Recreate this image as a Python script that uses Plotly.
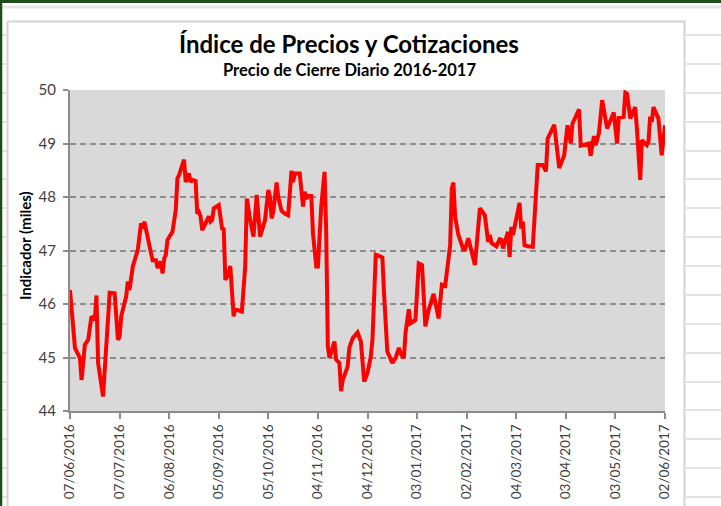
import pandas as pd
import plotly.graph_objects as go

# ---- data ----
start_date = "2016-06-07"
end_date = "2017-06-02"
days_since_start = [
    0, 3, 6, 7, 9, 11, 13, 15, 16, 17, 20, 23, 24, 27, 29, 30, 31, 34, 35, 36,
    38, 41, 43, 44, 45, 49, 50, 52, 53, 54, 55, 56, 57, 58, 59, 62, 64, 65, 66, 69,
    70, 72, 73, 74, 76, 77, 78, 79, 80, 81, 83, 84, 85, 86, 87, 90, 92, 93, 94, 96,
    97, 98, 99, 100, 102, 104, 106, 107, 109, 111, 113, 115, 118, 120, 121, 122, 123, 125, 126, 128,
    130, 132, 134, 135, 136, 139, 141, 142, 143, 144, 146, 147, 149, 150, 152, 154, 155, 156, 157, 158,
    160, 161, 163, 164, 165, 168, 169, 171, 174, 176, 178, 180, 182, 183, 185, 187, 189, 190, 192, 195,
    197, 199, 200, 202, 203, 205, 206, 209, 211, 213, 215, 217, 220, 223, 225, 227, 230, 231, 232, 233,
    235, 238, 239, 241, 245, 248, 251, 253, 254, 255, 258, 260, 261, 262, 265, 266, 267, 268, 272, 273,
    274, 275, 277, 280, 283, 286, 288, 289, 292, 293, 296, 299, 301, 303, 304, 308, 309, 314, 315, 317,
    318, 320, 322, 325, 329, 330, 331, 332, 335, 336, 337, 339, 342, 343, 345, 346, 349, 350, 351, 352,
    353, 356, 358, 360,
]
closing_price = [
    46.26, 45.18, 44.99, 44.58, 45.24, 45.33, 45.77, 45.70, 46.16, 44.90, 44.27, 45.83, 46.21, 46.20, 45.33, 45.39, 45.77, 46.14, 46.42, 46.26,
    46.70, 47.01, 47.51, 47.41, 47.54, 46.95, 46.82, 46.82, 46.67, 46.75, 46.79, 46.57, 46.85, 46.92, 47.20, 47.35, 47.76, 48.35, 48.41, 48.70,
    48.28, 48.44, 48.28, 48.32, 48.30, 47.69, 47.72, 47.64, 47.38, 47.44, 47.60, 47.64, 47.54, 47.57, 47.79, 47.85, 47.41, 47.40, 46.45, 46.57,
    46.71, 46.32, 45.77, 45.90, 45.88, 45.86, 46.70, 47.97, 47.57, 47.26, 48.04, 47.26, 47.57, 48.13, 48.00, 47.60, 47.72, 48.27, 48.00, 47.74,
    47.69, 47.66, 48.49, 48.28, 48.44, 48.44, 47.82, 48.10, 47.97, 48.02, 48.02, 47.32, 46.70, 46.70, 47.82, 48.47, 47.38, 45.21, 44.99, 45.08,
    45.30, 44.96, 44.90, 44.37, 44.58, 44.83, 45.18, 45.36, 45.47, 45.30, 44.55, 44.71, 45.02, 45.33, 46.92, 46.90, 46.87, 46.20, 45.11, 44.90,
    44.99, 45.18, 45.08, 44.99, 45.46, 45.90, 45.64, 45.70, 46.76, 46.73, 45.58, 45.89, 46.19, 45.73, 46.36, 46.34, 47.10, 48.16, 48.27, 47.63,
    47.29, 47.02, 47.02, 47.23, 46.73, 47.79, 47.66, 47.16, 47.29, 47.14, 47.08, 47.21, 47.20, 47.04, 47.35, 46.88, 47.44, 47.29, 47.89, 47.41,
    47.54, 47.10, 47.08, 47.07, 48.60, 48.60, 48.48, 49.09, 49.31, 49.35, 48.54, 48.78, 49.34, 49.00, 49.37, 49.64, 48.96, 49.00, 48.77, 49.14,
    48.97, 49.19, 49.81, 49.28, 49.58, 49.19, 49.00, 49.48, 49.50, 49.95, 49.93, 49.47, 49.68, 49.28, 48.32, 49.06, 48.97, 49.03, 49.50, 49.40,
    49.68, 49.47, 48.78, 49.34,
]
y_range = [44, 50]
tick_step_days = 30

title_text = "Índice de Precios y Cotizaciones"
subtitle_text = "Precio de Cierre Diario 2016-2017"
y_title_text = "Indicador (miles)"

dates = pd.Timestamp(start_date) + pd.to_timedelta(days_since_start, unit="D")

# ---- layout geometry ----
W, H = 721, 506
L, R, T, B = 70, 56, 90, 95
PW, PH = W - L - R, H - T - B


def px(x):
    return (x - L) / PW


def py(y):
    return 1 - (y - T) / PH


FONT = "Lato"

fig = go.Figure()
fig.add_trace(go.Scatter(
    x=dates, y=closing_price, mode="lines",
    line=dict(color="#ff0000", width=4),
    hoverinfo="x+y", showlegend=False,
))

shapes = []
# spreadsheet grid lines outside the chart box
grid_rows = [35, 64, 93, 122, 151, 179, 208, 237, 266, 295, 324, 353, 382, 410, 439, 468, 497]
for gy in grid_rows:
    shapes.append(dict(type="line", xref="paper", yref="paper",
                       x0=px(0), x1=px(7), y0=py(gy), y1=py(gy),
                       line=dict(color="#e3e3e3", width=2), layer="below"))
    shapes.append(dict(type="line", xref="paper", yref="paper",
                       x0=px(686), x1=px(W), y0=py(gy), y1=py(gy),
                       line=dict(color="#e3e3e3", width=2), layer="below"))
# light line under the top border
shapes.append(dict(type="line", xref="paper", yref="paper",
                   x0=px(0), x1=px(W), y0=py(7), y1=py(7),
                   line=dict(color="#e6e6e6", width=3), layer="below"))
# chart box border
shapes.append(dict(type="rect", xref="paper", yref="paper",
                   x0=px(7.5), x1=px(684.5), y0=py(21.5), y1=py(H + 20),
                   line=dict(color="#d4d4d4", width=2), fillcolor="rgba(0,0,0,0)",
                   layer="below"))
# dark green frame (top and left)
shapes.append(dict(type="line", xref="paper", yref="paper",
                   x0=px(0), x1=px(W), y0=py(1.5), y1=py(1.5),
                   line=dict(color="#1d4d1d", width=3)))
shapes.append(dict(type="line", xref="paper", yref="paper",
                   x0=px(1), x1=px(1), y0=py(0), y1=py(H),
                   line=dict(color="#1d4d1d", width=2.5)))

annotations = [
    dict(text="<b>" + title_text + "</b>", xref="paper", yref="paper",
         x=px(349), y=py(43), xanchor="center", yanchor="middle", showarrow=False,
         font=dict(family=FONT, size=24, color="#000000")),
    dict(text="<b>" + subtitle_text + "</b>", xref="paper", yref="paper",
         x=px(349), y=py(70), xanchor="center", yanchor="middle", showarrow=False,
         font=dict(family=FONT, size=16.5, color="#000000")),
    dict(text="<b>" + y_title_text + "</b>", xref="paper", yref="paper",
         x=px(25), y=py(246), xanchor="center", yanchor="middle", showarrow=False,
         textangle=-90, font=dict(family=FONT, size=15, color="#000000")),
]

fig.update_layout(
    width=W, height=H,
    margin=dict(l=L, r=R, t=T, b=B, pad=0, autoexpand=False),
    paper_bgcolor="white",
    plot_bgcolor="#d9d9d9",
    shapes=shapes,
    annotations=annotations,
    font=dict(family=FONT, color="#404040"),
    xaxis=dict(
        type="date",
        range=[start_date, end_date],
        tick0=start_date,
        dtick=tick_step_days * 86400000,
        tickformat="%d/%m/%Y",
        tickangle=-90,
        ticks="outside", ticklen=6, tickwidth=1.5, tickcolor="#8c8c8c",
        showline=True, linecolor="#8c8c8c", linewidth=2,
        showgrid=False, zeroline=False, automargin=False,
        tickfont=dict(family=FONT, size=13.5, color="#404040"),
    ),
    yaxis=dict(
        range=y_range,
        dtick=1,
        ticks="outside", ticklen=5, tickwidth=1.5, tickcolor="#8c8c8c",
        showline=True, linecolor="#8c8c8c", linewidth=2,
        showgrid=True, gridcolor="#8c8c8c", gridwidth=1.5, griddash="6px,4px",
        zeroline=False, automargin=False,
        tickfont=dict(family=FONT, size=15, color="#404040"),
        ticklabelstandoff=4,
    ),
)

fig.write_html(
    "out.html",
    config={"displayModeBar": False},
    post_script="document.body.style.margin='0px';document.body.style.overflow='hidden';",
)
